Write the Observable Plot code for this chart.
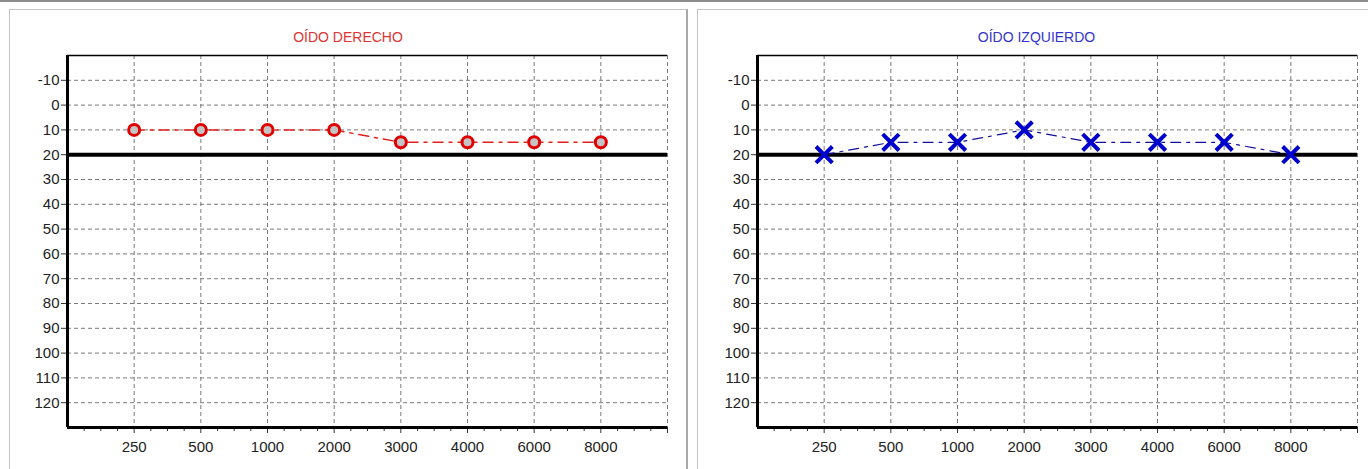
<!DOCTYPE html>
<html><head><meta charset="utf-8">
<script src="https://cdn.jsdelivr.net/npm/d3@7"></script>
<script src="https://cdn.jsdelivr.net/npm/@observablehq/plot@0.6"></script>
<style>
html,body{margin:0;padding:0;background:#fff;width:1368px;height:469px;overflow:hidden;position:relative;font-family:"Liberation Sans",Arial,sans-serif}
#topline{position:absolute;left:0;top:0;width:1368px;height:2px;background:#8c8c8c}
.panel{position:absolute;top:9px;height:480px;border:1px solid #c4c4c4;box-sizing:border-box;background:#fff}
.title{position:absolute;top:29px;height:16px;line-height:16px;font-size:14px;text-align:center;font-family:"Liberation Sans",Arial,sans-serif}
.chart{position:absolute;top:10px;width:676px;height:459px}
.chart svg{max-width:none !important}
</style></head><body>
<div id="topline"></div>
<div class="panel" style="left:9px;width:679px;border-right:2px solid #a8a8a8"></div>
<div class="panel" style="left:697px;width:700px"></div>
<div class="title" style="left:9px;width:678px;color:#e03434">OÍDO DERECHO</div>
<div class="title" style="left:698px;width:677px;color:#3434cc">OÍDO IZQUIERDO</div>
<div class="chart" id="c1" style="left:10px"></div>
<div class="chart" id="c2" style="left:700px"></div>
<script>
// Data
const frequencies = ["250", "500", "1000", "2000", "3000", "4000", "6000", "8000"];
const rightEarDb = [10, 10, 10, 10, 15, 15, 15, 15];
const leftEarDb = [20, 15, 15, 10, 15, 15, 15, 20];
const dbTicks = [-10, 0, 10, 20, 30, 40, 50, 60, 70, 80, 90, 100, 110, 120];
const dbDomain = [-20, 130];
const referenceDb = 20;

function makeChart(values, style) {
  const data = frequencies.map((f, i) => ({slot: i + 1, freq: f, db: values[i]}));
  const nSlots = frequencies.length + 1;
  const majors = d3.range(1, nSlots + 1);
  const minors = d3.range(0.25, nSlots + 0.01, 0.25).filter(v => v % 1 !== 0);
  const labelOf = v => frequencies[v - 1] ?? "";
  const marks = [
    Plot.gridY(dbTicks, {stroke: "#7a7a7a", strokeOpacity: 1, strokeDasharray: "4,3"}),
    Plot.gridX(majors, {stroke: "#7a7a7a", strokeOpacity: 1, strokeDasharray: "4,3"}),
    Plot.axisY(dbTicks, {label: null, tickSize: 6, tickPadding: 2, tickFormat: d => String(d), fontSize: 15, fill: "#222", stroke: "#333"}),
    Plot.axisX(minors, {label: null, tickSize: 4, tickFormat: () => "", stroke: "#333"}),
    Plot.axisX(majors, {label: null, tickSize: 6, tickPadding: 8, tickFormat: labelOf, fontSize: 15, fill: "#222", stroke: "#333"}),
    Plot.ruleY([dbDomain[0]], {stroke: "#000", strokeWidth: 1.5}),
    Plot.ruleY([referenceDb], {stroke: "#000", strokeWidth: 4}),
    Plot.ruleY([dbDomain[1]], {stroke: "#000", strokeWidth: 3}),
    Plot.ruleX([0], {stroke: "#000", strokeWidth: 3}),
    Plot.line(data, {x: "slot", y: "db", stroke: style.lineColor, strokeWidth: style.lineWidth, strokeDasharray: "10,6,3,6"}),
    style.symbol === "circle"
      ? Plot.dot(data, {x: "slot", y: "db", r: 5.5, stroke: style.markColor, strokeWidth: 3, fill: "#c4c4c4"})
      : Plot.dot(data, {x: "slot", y: "db", r: 7.5, symbol: "times", stroke: style.markColor, strokeWidth: 4})
  ];
  return Plot.plot({
    width: 676,
    height: 459,
    marginLeft: 57,
    marginRight: 19,
    marginTop: 45,
    marginBottom: 42,
    style: {fontFamily: "Liberation Sans, Arial, sans-serif", fontSize: "15px", background: "transparent", overflow: "visible", maxWidth: "none"},
    x: {type: "linear", domain: [0, nSlots], axis: null},
    y: {type: "linear", domain: dbDomain, reverse: true, axis: null},
    marks
  });
}

document.getElementById("c1").append(makeChart(rightEarDb, {lineColor: "#e02020", lineWidth: 1.5, markColor: "#e00000", symbol: "circle"}));
document.getElementById("c2").append(makeChart(leftEarDb, {lineColor: "#10109a", lineWidth: 1.2, markColor: "#0000cc", symbol: "times"}));
</script>
</body></html>
